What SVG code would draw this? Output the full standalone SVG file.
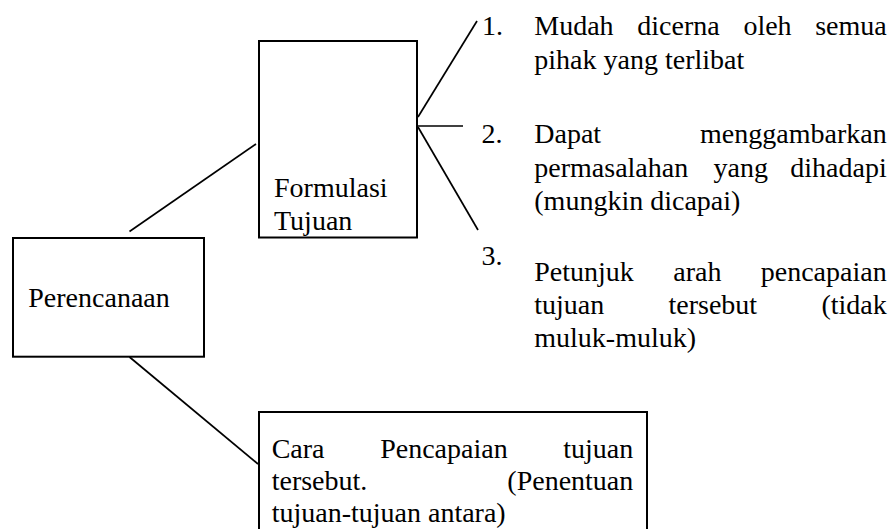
<svg xmlns="http://www.w3.org/2000/svg" width="893" height="529" viewBox="0 0 893 529">
<style>
.box{fill:#fff;stroke:#000;stroke-width:2}
.ln{stroke:#000;stroke-width:1.7;fill:none}
.e{text-anchor:end}
</style>
<rect width="893" height="529" fill="#fff"/>
<g id="connectors">
<line class="ln" x1="129.5" y1="231.5" x2="256" y2="144"/>
<line class="ln" x1="129.5" y1="357" x2="258" y2="464"/>
<line class="ln" x1="418" y1="117" x2="477" y2="21"/>
<line class="ln" x1="418" y1="126" x2="463" y2="126"/>
<line class="ln" x1="418" y1="127" x2="478" y2="230"/>
</g>
<g font-family="Liberation Serif, serif" font-size="28" fill="#000">
<g id="perencanaan">
<rect class="box" x="13" y="238" width="191" height="118.7"/>
<text x="28.3" y="307">Perencanaan</text>
</g>
<g id="formulasi">
<rect class="box" x="259" y="41" width="158" height="196.5"/>
<text x="274" y="196.7">Formulasi</text>
<text x="274" y="230">Tujuan</text>
</g>
<g id="cara">
<rect class="box" x="259" y="412" width="388" height="140"/>
<text x="271.7" y="458.3">Cara</text>
<text x="380.2" y="458.3">Pencapaian</text>
<text class="e" x="633.3" y="458.3">tujuan</text>
<text x="271.7" y="490">tersebut.</text>
<text class="e" x="633.3" y="490">(Penentuan</text>
<text x="271.7" y="521.7">tujuan-tujuan antara)</text>
</g>
<g id="item1">
<text x="482" y="35">1.</text>
<text x="534.3" y="35">Mudah</text>
<text x="637.3" y="35">dicerna</text>
<text x="743.4" y="35">oleh</text>
<text class="e" x="886.7" y="35">semua</text>
<text x="534.3" y="69">pihak yang terlibat</text>
</g>
<g id="item2">
<text x="481.5" y="143">2.</text>
<text x="534.3" y="143">Dapat</text>
<text class="e" x="886.7" y="143">menggambarkan</text>
<text x="534.3" y="176.7">permasalahan</text>
<text x="713.5" y="176.7">yang</text>
<text class="e" x="886.7" y="176.7">dihadapi</text>
<text x="534.3" y="210">(mungkin dicapai)</text>
</g>
<g id="item3">
<text x="481.5" y="265">3.</text>
<text x="534.3" y="281">Petunjuk</text>
<text x="673.3" y="281">arah</text>
<text class="e" x="886.7" y="281">pencapaian</text>
<text x="534.3" y="314">tujuan</text>
<text x="668.5" y="314">tersebut</text>
<text class="e" x="886.7" y="314">(tidak</text>
<text x="534.3" y="347">muluk-muluk)</text>
</g>
</g>
</svg>
